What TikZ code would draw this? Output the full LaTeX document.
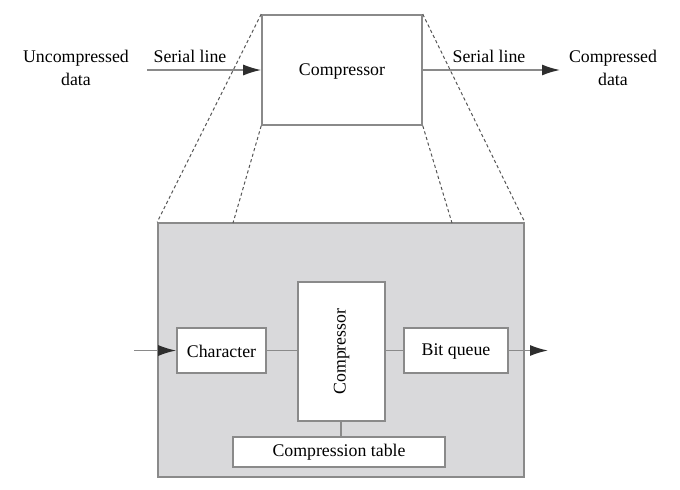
\documentclass[tikz,border=0pt]{standalone}
\usepackage{fontspec}
\setmainfont{Liberation Serif}
\usetikzlibrary{arrows.meta}
\definecolor{boxline}{HTML}{8A8A8A}
\definecolor{panel}{HTML}{D9D9DB}
\definecolor{headc}{HTML}{2E2E2E}
\definecolor{dashc}{HTML}{555555}
\tikzset{
  box/.style={draw=boxline, line width=0.8pt, fill=white, inner sep=0pt},
  panelbox/.style={draw=boxline, line width=0.8pt, fill=panel, inner sep=0pt},
  lbl/.style={inner sep=0pt, font=\fontsize{8.9}{11.5}\selectfont, align=center},
  conn/.style={draw=boxline, line width=0.8pt},
  arr/.style={conn, -{Latex[length=9pt,width=5.5pt,color=headc]}},
  zoomline/.style={draw=dashc, line width=0.5pt, dash pattern=on 1.6pt off 1.3pt},
}
\begin{document}
\begin{tikzpicture}[x=0.5pt,y=-0.5pt]
\useasboundingbox (0,0) rectangle (680,489);
% top level
\node[box, minimum width=80pt, minimum height=55pt] (top) at (342,70) {};
\node[lbl] (toptxt) at (342,71) {Compressor};
\coordinate (inA) at (147,70);
\coordinate (outA) at (560,70);
\draw[arr] (inA) -- (top.west);
\draw[arr] (top.east) -- (outA);
\node[lbl] (unc) at (76,68) {Uncompressed\\data};
\node[lbl] (comp) at (613,68) {Compressed\\data};
\node[lbl] (sl1) at (190,56.5) {Serial line};
\node[lbl] (sl2) at (489,56.5) {Serial line};
% panel
\node[panelbox, minimum width=183pt, minimum height=127pt] (panel) at (341,350) {};
\coordinate (gl) at (233,223);
\coordinate (gr) at (452,223);
\draw[zoomline] (top.north west) -- (panel.north west);
\draw[zoomline] (top.north east) -- (panel.north east);
\draw[zoomline] (top.south west) -- (gl);
\draw[zoomline] (top.south east) -- (gr);
% inner blocks
\node[box, minimum width=44.5pt, minimum height=22.5pt] (char) at (221.5,350.5) {};
\node[lbl] (chartxt) at (221.5,351) {Character};
\node[box, minimum width=43.5pt, minimum height=69.5pt] (icomp) at (341.5,351.5) {};
\node[lbl, rotate=90] (icomptxt) at (341.5,351.5) {Compressor};
\node[box, minimum width=52pt, minimum height=22.5pt] (bitq) at (456,350.5) {};
\node[lbl] (bitqtxt) at (456,351) {Bit queue};
\node[box, minimum width=106pt, minimum height=15pt] (table) at (339,452) {};
\node[lbl] (tabletxt) at (339,452) {Compression table};
\coordinate (pin) at (134,350.5);
\coordinate (pout) at (548,350.5);
\coordinate (tx) at (340.7,0);
\draw[arr] (pin) -- (char.west);
\draw[conn] (char.east) -- (char.east -| icomp.west);
\draw[conn] (icomp.east |- bitq.west) -- (bitq.west);
\draw[arr] (bitq.east) -- (pout);
\draw[conn] (icomp.south -| tx) -- (table.north -| tx);
\end{tikzpicture}
\end{document}
